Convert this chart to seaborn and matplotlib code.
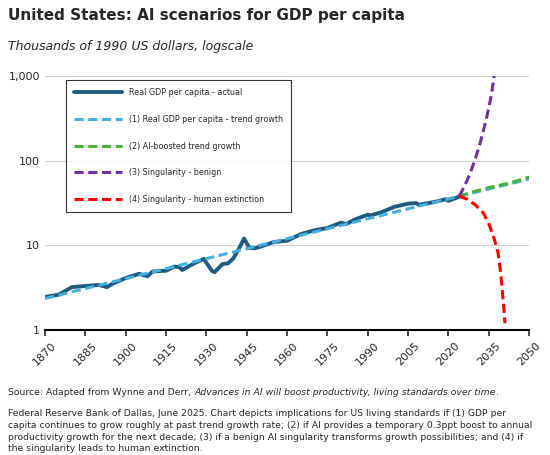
import matplotlib.pyplot as plt
import numpy as np
import pandas as pd
import seaborn as sns

# Data
actual_years = [1870, 1875, 1880, 1885, 1890, 1893, 1895, 1900, 1905, 1908, 1910, 1915,
                1918, 1920, 1921, 1925, 1929, 1930, 1932, 1933, 1936, 1938, 1940, 1942,
                1944, 1946, 1948, 1950, 1955, 1960, 1965, 1970, 1975, 1980, 1982, 1985,
                1990, 1991, 1995, 2000, 2005, 2008, 2009, 2010, 2015, 2019, 2020, 2024]
actual_vals = [2.45, 2.6, 3.2, 3.3, 3.4, 3.2, 3.5, 4.1, 4.6, 4.3, 4.9, 5.0,
               5.6, 5.5, 5.1, 6.0, 6.9, 6.2, 5.0, 4.8, 6.0, 6.1, 7.0, 9.0,
               12.0, 9.3, 9.2, 9.6, 10.9, 11.3, 13.5, 15.0, 16.0, 18.5, 17.8, 20.0,
               23.0, 22.5, 24.5, 28.5, 31.0, 31.5, 30.0, 30.5, 32.5, 35.0, 33.5, 37.5]

trend_years = [1870, 2024, 2050]
trend_vals = [2.35, 38.0, 60.5]

ai_years = [2024, 2030, 2035, 2040, 2045, 2050]
ai_vals = [38.0, 43.5, 48.0, 52.0, 57.0, 64.0]

benign_years = [2024, 2026, 2028, 2030, 2032, 2034, 2036, 2037]
benign_vals = [38.0, 50.0, 70.0, 105.0, 170.0, 300.0, 600.0, 1000.0]

extinct_years = [2024, 2027, 2030, 2033, 2035, 2037, 2038.5, 2039.5, 2040.5, 2041]
extinct_vals = [38.0, 35.0, 30.0, 24.0, 18.0, 12.0, 8.0, 4.5, 2.0, 1.2]

sns.set_style("white")
plt.rcParams["font.family"] = "DejaVu Sans"

fig = plt.figure(figsize=(5.5, 4.55), dpi=100)
ax = fig.add_axes([0.082, 0.275, 0.88, 0.558])

ax.set_yscale("log")
ax.grid(axis="y", color="#d0d0d0", linewidth=0.8)
ax.set_axisbelow(True)

dash = (0, (3, 1.5))
sns.lineplot(x=actual_years, y=actual_vals, ax=ax, color="#1f5b80", linewidth=2.8,
             label="Real GDP per capita - actual")
sns.lineplot(x=trend_years, y=trend_vals, ax=ax, color="#45b0e0", linewidth=2.2,
             linestyle=dash, label="(1) Real GDP per capita - trend growth")
sns.lineplot(x=ai_years, y=ai_vals, ax=ax, color="#4daf3a", linewidth=2.2,
             linestyle=dash, label="(2) AI-boosted trend growth")
sns.lineplot(x=benign_years, y=benign_vals, ax=ax, color="#7030a0", linewidth=2.2,
             linestyle=dash, label="(3) Singularity - benign")
sns.lineplot(x=extinct_years, y=extinct_vals, ax=ax, color="#ff0000", linewidth=2.2,
             linestyle=dash, label="(4) Singularity - human extinction")

ax.set_xlim(1870, 2050)
ax.set_ylim(1, 1000)
ax.set_yticks([1, 10, 100, 1000])
ax.set_yticklabels(["1", "10", "100", "1,000"], fontsize=8)
ax.set_xticks(np.arange(1870, 2051, 15))
ax.set_xticklabels([str(y) for y in range(1870, 2051, 15)], rotation=45, fontsize=8)
ax.minorticks_off()
ax.tick_params(axis="x", length=4, width=1.2, direction="out", bottom=True)
ax.tick_params(axis="y", length=0)
for s in ["top", "right", "left"]:
    ax.spines[s].set_visible(False)
ax.spines["bottom"].set_linewidth(1.5)
ax.spines["bottom"].set_color("black")
ax.set_xlabel("")
ax.set_ylabel("")

leg = ax.legend(loc="upper left", bbox_to_anchor=(0.035, 1.0), fontsize=5.8,
                frameon=True, fancybox=False, edgecolor="black", handlelength=6,
                labelspacing=2.2, borderpad=1.0, handletextpad=0.8)
leg.get_frame().set_linewidth(0.8)

fig.text(0.015, 0.955, "United States: AI scenarios for GDP per capita",
         fontsize=11, fontweight="bold")
fig.text(0.015, 0.89, "Thousands of 1990 US dollars, logscale", fontsize=9, style="italic")

# source line with italic title: chain pieces by measured width
fs = 6.7
fig.canvas.draw()
r = fig.canvas.get_renderer()
x0 = 0.015
y0 = 0.132
for txt, st in [("Source: Adapted from Wynne and Derr, ", "normal"),
                ("Advances in AI will boost productivity, living standards over time", "italic"),
                (".", "normal")]:
    t = fig.text(x0, y0, txt, fontsize=fs, style=st)
    bb = t.get_window_extent(renderer=r)
    x0 += bb.width / fig.bbox.width
foot = ("Federal Reserve Bank of Dallas, June 2025. Chart depicts implications for US living standards if (1) GDP per\n"
        "capita continues to grow roughly at past trend growth rate; (2) if AI provides a temporary 0.3ppt boost to annual\n"
        "productivity growth for the next decade; (3) if a benign AI singularity transforms growth possibilities; and (4) if\n"
        "the singularity leads to human extinction.")
fig.text(0.015, 0.008, foot, fontsize=fs, linespacing=1.4)

fig.savefig("out.png", dpi=100)
